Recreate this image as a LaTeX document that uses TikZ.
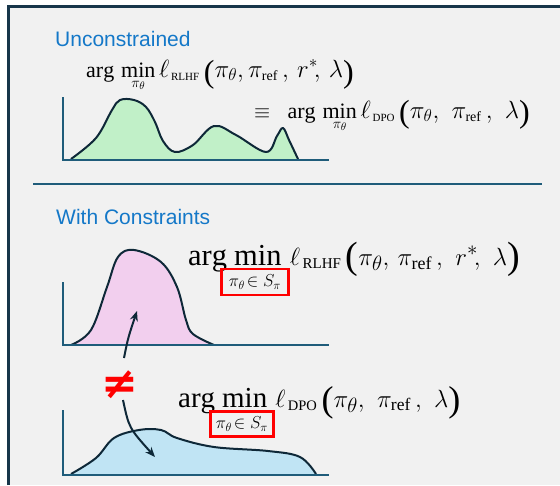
\documentclass[tikz,border=0pt]{standalone}
\usepackage{fontspec}
\setmainfont{Liberation Serif}
\setsansfont{Liberation Sans}
\newfontfamily\neqfont{DejaVu Sans}
\usetikzlibrary{arrows.meta}
\definecolor{bggray}{HTML}{F1F1F1}
\definecolor{framec}{HTML}{17364A}
\definecolor{axisc}{HTML}{1F5C7A}
\definecolor{curvec}{HTML}{0E2838}
\definecolor{greenf}{HTML}{C1F0C8}
\definecolor{pinkf}{HTML}{F2CFEE}
\definecolor{bluef}{HTML}{C0E4F4}
\definecolor{labelc}{HTML}{1478C8}
\newcommand\lsub[2]{_{\mbox{\fontsize{#1}{#1}\selectfont #2}}}
\newcommand\tpar[3]{\raisebox{#2}{\fontsize{#1}{#1}\selectfont #3}}
\newcommand\lowsub{\raisebox{-4pt}{$\scriptstyle\pi_\theta$}}
\tikzset{
  axisline/.style={draw=axisc, line width=2.2pt},
  distcurve/.style={draw=curvec, line width=2pt, line join=round},
  seclabel/.style={font=\sffamily\fontsize{21}{24}\selectfont, text=labelc, anchor=base west, inner sep=0pt},
  formula/.style={anchor=base west, inner sep=0pt},
  redbox/.style={draw=red, line width=2.3pt, minimum width=67pt, minimum height=26pt, inner sep=0pt, font=\fontsize{18.5}{20}\selectfont},
  arr/.style={draw=curvec, line width=2pt, -{Stealth[length=10pt,width=8pt]}}
}
\begin{document}
\begin{tikzpicture}[x=1pt,y=-1pt]
\useasboundingbox (0,0) rectangle (560,485);
\fill[white] (0,0) rectangle (560,485);
\fill[bggray] (8.5,6) rectangle (560,485);
\draw[framec, line width=3pt] (8.5,485) -- (8.5,6) -- (560,6);

% ---------- Unconstrained ----------
\node[seclabel] (lab1) at (55,46) {Unconstrained};
\fill[greenf] plot[smooth, tension=0.6] coordinates {(71,159) (96,138) (112,110) (120,100) (134,100) (146,107) (155,122) (163,141) (175,152) (193,145) (214,126) (236,135) (266,152) (277,136) (283,128) (289,140) (298,159)} -- cycle;
\draw[distcurve] plot[smooth, tension=0.6] coordinates {(71,159) (96,138) (112,110) (120,100) (134,100) (146,107) (155,122) (163,141) (175,152) (193,145) (214,126) (236,135) (266,152) (277,136) (283,128) (289,140) (298,159)};
\draw[axisline] (63,97) -- (63,160) -- (329,160);
\node[formula] (f1) at (86,77) {\fontsize{22}{26}\selectfont$\mathrm{arg}\,\mathop{\mathrm{min}}\limits_{\lowsub}$\,{\fontsize{24}{28}\selectfont$\ell\lsub{11}{\,RLHF}\,\tpar{32}{-5pt}{(}\pi_\theta,\pi\lsub{14}{ref}\,,\,r^{*}\!,\,\lambda\tpar{32}{-5pt}{)}$}};
\node[formula] (f2) at (254,118) {\fontsize{22}{26}\selectfont$\equiv\;\;\mathrm{arg}\,\mathop{\mathrm{min}}\limits_{\lowsub}$\,{\fontsize{25}{29}\selectfont$\ell\lsub{11}{\,DPO}\,\tpar{32}{-4pt}{(}\pi_\theta,\,\,\pi\lsub{14}{ref}\,,\,\,\lambda\tpar{32}{-4pt}{)}$}};

\draw[axisc, line width=2pt] (33,183.5) -- (542,183.5);

% ---------- With Constraints ----------
\node[seclabel] (lab2) at (56,224) {With Constraints};
\fill[pinkf] plot[smooth, tension=0.6] coordinates {(71,345) (91,330) (107,287) (118,257) (134,250) (161,262) (177,287) (186,320) (193,334) (214,345)} -- cycle;
\draw[distcurve] plot[smooth, tension=0.6] coordinates {(71,345) (91,330) (107,287) (118,257) (134,250) (161,262) (177,287) (186,320) (193,334) (214,345)};
\draw[axisline] (63,282) -- (63,345) -- (329,345);
\node[formula] (f3) at (188,265) {\fontsize{30.5}{34}\selectfont$\mathrm{arg}\;\mathrm{min}$\;{\fontsize{31}{35}\selectfont$\ell\lsub{15}{\,RLHF}\,\tpar{38}{-3pt}{(}\pi_\theta,\,\pi\lsub{18}{ref}\,,\,\,r^{*}\!,\,\,\lambda\tpar{38}{-3pt}{)}$}};
\node[redbox] (b1) at (255,282) {$\pi_\theta\!\in S_\pi$};

\fill[bluef] plot[smooth, tension=0.6] coordinates {(71,474) (96,458) (114,438) (139,430) (161,430) (177,438) (214,447) (268,451) (300,457) (316,474)} -- cycle;
\draw[distcurve] plot[smooth, tension=0.6] coordinates {(71,474) (96,458) (114,438) (139,430) (161,430) (177,438) (214,447) (268,451) (300,457) (316,474)};
\draw[axisline] (63,410) -- (63,475) -- (329,475);
\node[formula] (f4) at (178,407) {\fontsize{29}{33}\selectfont$\mathrm{arg}\;\mathrm{min}$\;{\fontsize{30}{34}\selectfont$\ell\lsub{14.5}{\,DPO}\,\tpar{36}{-4pt}{(}\pi_\theta,\,\,\pi\lsub{17.5}{ref}\,,\,\,\lambda\tpar{36}{-4pt}{)}$}};
\node[redbox, minimum width=63pt, minimum height=25pt] (b2) at (242,424) {$\pi_\theta\!\in S_\pi$};

% ---------- not equal + arrows ----------
\node[text=red, inner sep=0pt] (neq) at (120,385) {\neqfont\bfseries\fontsize{44}{46}\selectfont ≠};
\coordinate (a1s) at (124,358);
\coordinate (a1e) at (137,311);
\coordinate (a2s) at (123,400);
\coordinate (a2e) at (155,457);
\draw[arr] (a1s) .. controls (128,338) .. (a1e);
\draw[arr] (a2s) .. controls (129,428) .. (a2e);
\end{tikzpicture}
\end{document}
